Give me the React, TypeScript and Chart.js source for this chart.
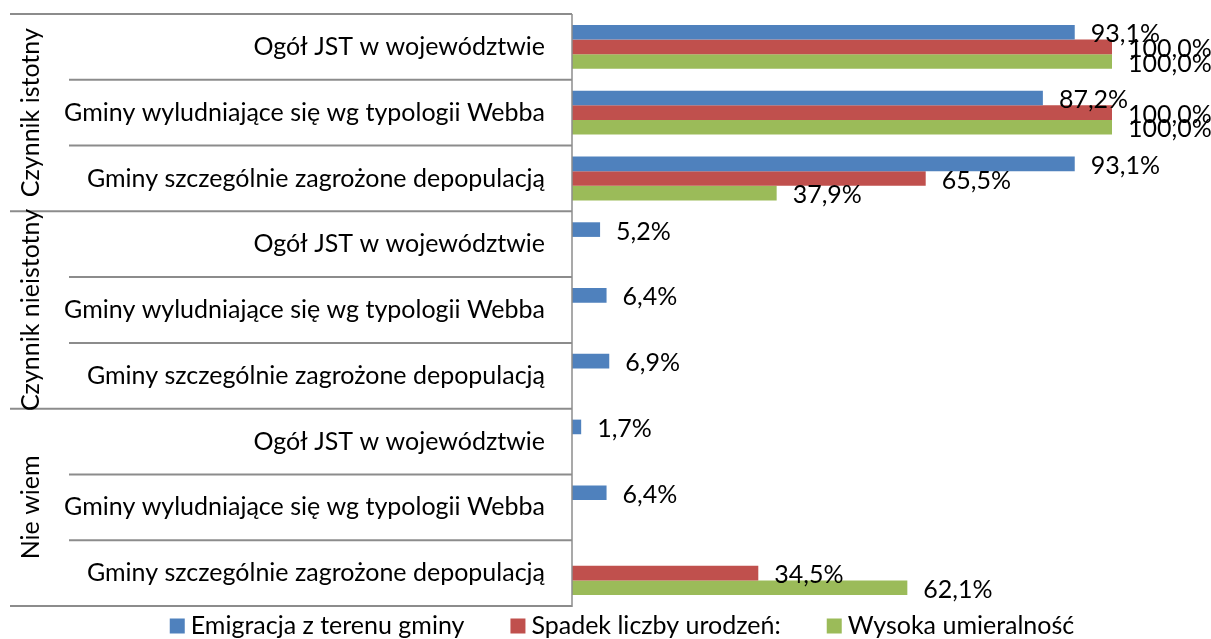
import React, { useEffect, useRef } from "react";
import { Chart, registerables } from "chart.js";

Chart.register(...registerables);

// ---- data ----
const groupLabels = ["Czynnik istotny", "Czynnik nieistotny", "Nie wiem"];
const subCategories = [
  "Ogół JST w województwie",
  "Gminy wyludniające się wg typologii Webba",
  "Gminy szczególnie zagrożone depopulacją",
];
const categories = [
  "Ogół JST w województwie",
  "Gminy wyludniające się wg typologii Webba",
  "Gminy szczególnie zagrożone depopulacją",
  "Ogół JST w województwie",
  "Gminy wyludniające się wg typologii Webba",
  "Gminy szczególnie zagrożone depopulacją",
  "Ogół JST w województwie",
  "Gminy wyludniające się wg typologii Webba",
  "Gminy szczególnie zagrożone depopulacją",
];
const seriesNames = ["Emigracja z terenu gminy", "Spadek liczby urodzeń:", "Wysoka umieralność"];
const emigracja = [93.1, 87.2, 93.1, 5.2, 6.4, 6.9, 1.7, 6.4, 0];
const spadekUrodzen = [100.0, 100.0, 65.5, 0, 0, 0, 0, 0, 34.5];
const wysokaUmieralnosc = [100.0, 100.0, 37.9, 0, 0, 0, 0, 0, 62.1];
const seriesColors = ["#4F81BD", "#C0504D", "#9BBB59"];

const FONT = "Lato, 'Open Sans', sans-serif";
const FONT_SIZE = 25;
const LINE_COLOR = "#8C8C8C";

const fmt = (v: number) => v.toFixed(1).replace(".", ",") + "%";

const valueLabelsPlugin = {
  id: "valueLabels",
  afterDatasetsDraw(chart: any) {
    const ctx = chart.ctx;
    ctx.save();
    ctx.font = `${FONT_SIZE}px ${FONT}`;
    ctx.fillStyle = "#000";
    ctx.textAlign = "left";
    ctx.textBaseline = "middle";
    chart.data.datasets.forEach((ds: any, di: number) => {
      const meta = chart.getDatasetMeta(di);
      meta.data.forEach((el: any, i: number) => {
        const v = ds.data[i];
        if (!v) return;
        const p = el.getProps(["x", "y"], true);
        ctx.fillText(fmt(v), p.x + 16, p.y + 2);
      });
    });
    ctx.restore();
  },
};

const axisDecorPlugin = {
  id: "axisDecor",
  afterDraw(chart: any) {
    const ctx = chart.ctx;
    const ys = chart.scales.y;
    const area = chart.chartArea;
    const n = chart.data.labels.length;
    const step = ys.getPixelForValue(1) - ys.getPixelForValue(0);
    ctx.save();
    ctx.strokeStyle = LINE_COLOR;
    // horizontal separators
    ctx.lineWidth = 2;
    for (let i = 0; i <= n; i++) {
      const y = ys.getPixelForValue(i) - step / 2;
      const outer = i % subCategories.length === 0;
      ctx.beginPath();
      ctx.moveTo(outer ? 10 : 69, y);
      ctx.lineTo(area.left, y);
      ctx.stroke();
    }
    // vertical axis line
    ctx.lineWidth = 1.5;
    ctx.beginPath();
    ctx.moveTo(area.left, ys.getPixelForValue(0) - step / 2);
    ctx.lineTo(area.left, ys.getPixelForValue(n - 1) + step / 2 + 1);
    ctx.stroke();
    // group labels
    ctx.fillStyle = "#000";
    ctx.font = `${FONT_SIZE}px ${FONT}`;
    ctx.textAlign = "center";
    ctx.textBaseline = "middle";
    groupLabels.forEach((g, gi) => {
      const first = gi * subCategories.length;
      const last = first + subCategories.length - 1;
      const cy = (ys.getPixelForValue(first) + ys.getPixelForValue(last)) / 2;
      ctx.save();
      ctx.translate(31, cy);
      ctx.rotate(-Math.PI / 2);
      ctx.fillText(g, 0, 0);
      ctx.restore();
    });
    ctx.restore();
  },
};

const legendPlugin = {
  id: "customLegend",
  afterDraw(chart: any) {
    const ctx = chart.ctx;
    const box = 15;
    const boxGap = 6;
    const itemGap = 46;
    const centerX = 622;
    const cy = 626;
    ctx.save();
    ctx.font = `${FONT_SIZE}px ${FONT}`;
    ctx.textBaseline = "middle";
    ctx.textAlign = "left";
    const items = chart.data.datasets.map((ds: any) => ({
      text: ds.label as string,
      color: ds.backgroundColor as string,
    }));
    const widths = items.map((it: any) => box + boxGap + ctx.measureText(it.text).width);
    const total = widths.reduce((a: number, b: number) => a + b, 0) + itemGap * (items.length - 1);
    let x = centerX - total / 2;
    items.forEach((it: any, i: number) => {
      ctx.fillStyle = it.color;
      ctx.fillRect(x, cy - box / 2, box, box);
      ctx.fillStyle = "#000";
      ctx.fillText(it.text, x + box + boxGap, cy);
      x += widths[i] + itemGap;
    });
    ctx.restore();
  },
};

export default function App() {
  const canvasRef = useRef<HTMLCanvasElement | null>(null);

  useEffect(() => {
    if (!canvasRef.current) return;
    Chart.defaults.font.family = FONT;
    const seriesData = [emigracja, spadekUrodzen, wysokaUmieralnosc];
    const chart = new Chart(canvasRef.current, {
      type: "bar",
      data: {
        labels: categories,
        datasets: seriesNames.map((name, i) => ({
          label: name,
          data: seriesData[i],
          backgroundColor: seriesColors[i],
          borderWidth: 0,
          categoryPercentage: 0.667,
          barPercentage: 1.0,
        })),
      },
      options: {
        indexAxis: "y",
        animation: false,
        responsive: false,
        maintainAspectRatio: false,
        layout: { padding: { top: 14, bottom: 33, left: 0, right: 45 } },
        plugins: {
          legend: { display: false },
          tooltip: { enabled: false },
          title: { display: false },
        },
        scales: {
          x: { type: "linear", min: 0, max: 110, display: false },
          y: {
            type: "category",
            position: "left",
            grid: { display: false, drawTicks: false },
            border: { display: false },
            ticks: {
              autoSkip: false,
              padding: 27,
              color: "#000",
              font: { family: FONT, size: FONT_SIZE },
            },
            afterFit: (s: any) => {
              s.width = 572;
              s.paddingTop = 0;
              s.paddingBottom = 0;
            },
          },
        },
      },
      plugins: [axisDecorPlugin, valueLabelsPlugin, legendPlugin],
    });
    return () => chart.destroy();
  }, []);

  return (
    <div style={{ position: "fixed", left: 0, top: 0, width: 1211, height: 639, background: "#fff" }}>
      <canvas ref={canvasRef} width={1211} height={639} style={{ display: "block" }} />
    </div>
  );
}
